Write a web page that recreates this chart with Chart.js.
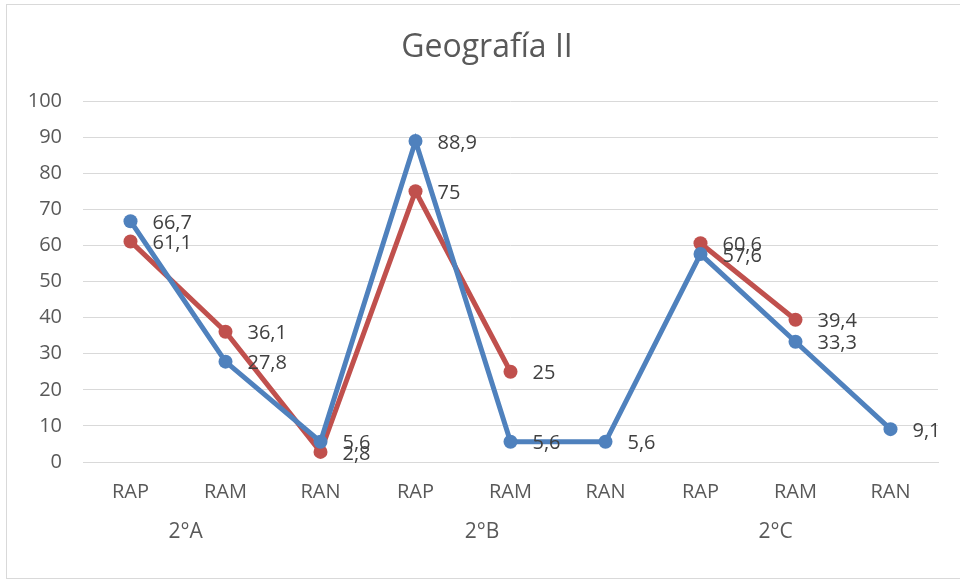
<!DOCTYPE html>
<html lang="es">
<head>
    <meta charset="UTF-8">
    <title>Geografía II</title>
    <script src="https://cdn.jsdelivr.net/npm/chart.js@4.4.1/dist/chart.umd.min.js"></script>
    <style>
        body {
            margin: 0;
            background: #fff;
        }
        #chart {
            display: block;
        }
    </style>
</head>
<body>
    <canvas id="chart" width="960" height="580"></canvas>

    <script>
        // datos
        const categories = ['RAP', 'RAM', 'RAN', 'RAP', 'RAM', 'RAN', 'RAP', 'RAM', 'RAN'];
        const groups = ['2°A', '2°B', '2°C'];
        const serieAzul = [66.7, 27.8, 5.6, 88.9, 5.6, 5.6, 57.6, 33.3, 9.1];
        const serieRoja = [61.1, 36.1, 2.8, 75, 25, null, 60.6, 39.4, null];
        const yTicks = [0, 10, 20, 30, 40, 50, 60, 70, 80, 90, 100];

        const FONT = '"Open Sans", "DejaVu Sans", sans-serif';
        const AZUL = '#4F81BD';
        const ROJO = '#C0504D';

        const fmt = v => String(v).replace('.', ',');

        // marco, título, grupos y etiquetas de datos
        const extras = {
            id: 'extras',
            beforeDraw(chart) {
                const ctx = chart.ctx;
                ctx.save();
                ctx.strokeStyle = '#D9D9D9';
                ctx.lineWidth = 1;
                ctx.strokeRect(6.5, 4.5, 1000, 574);
                ctx.restore();
            },
            afterDraw(chart) {
                const ctx = chart.ctx;
                const x = chart.scales.x;
                ctx.save();
                ctx.fillStyle = '#595959';
                ctx.font = '32px ' + FONT;
                ctx.textAlign = 'center';
                ctx.textBaseline = 'middle';
                ctx.fillText('Geografía II', 487, 48);

                ctx.font = '21px ' + FONT;
                const groupPos = [0.58, 3.7, 6.79];
                groups.forEach((g, i) => {
                    ctx.fillText(g, x.getPixelForValue(groupPos[i]), 532);
                });

                ctx.font = '20px ' + FONT;
                ctx.fillStyle = '#404040';
                ctx.textAlign = 'left';
                chart.data.datasets.forEach((ds, di) => {
                    const meta = chart.getDatasetMeta(di);
                    meta.data.forEach((pt, i) => {
                        const v = ds.data[i];
                        if (v === null) return;
                        ctx.fillText(fmt(v), pt.x + 22, pt.y + 2);
                    });
                });
                ctx.restore();
            }
        };

        new Chart(document.getElementById('chart'), {
            type: 'line',
            data: {
                labels: categories,
                datasets: [
                    {
                        label: 'Serie 1',
                        data: serieAzul,
                        borderColor: AZUL,
                        backgroundColor: AZUL,
                        borderWidth: 5,
                        pointRadius: 7,
                        pointBorderWidth: 0,
                        tension: 0
                    },
                    {
                        label: 'Serie 2',
                        data: serieRoja,
                        borderColor: ROJO,
                        backgroundColor: ROJO,
                        borderWidth: 5,
                        pointRadius: 7,
                        pointBorderWidth: 0,
                        spanGaps: false,
                        tension: 0
                    }
                ]
            },
            options: {
                responsive: false,
                animation: false,
                layout: {
                    padding: { top: 101, left: 10, right: 22, bottom: 0 }
                },
                plugins: {
                    legend: { display: false },
                    title: { display: false },
                    tooltip: { enabled: false }
                },
                scales: {
                    x: {
                        offset: true,
                        grid: { display: false, drawTicks: false },
                        border: { display: true, color: '#D9D9D9', width: 1 },
                        ticks: {
                            color: '#595959',
                            font: { family: FONT, size: 20 },
                            padding: 18,
                            maxRotation: 0,
                            autoSkip: false
                        },
                        afterFit(s) { s.height = 118; }
                    },
                    y: {
                        min: 0,
                        max: 100,
                        afterBuildTicks(s) { s.ticks = yTicks.map(v => ({ value: v })); },
                        grid: { color: '#D9D9D9', lineWidth: 1, drawTicks: false },
                        border: { display: false },
                        ticks: {
                            color: '#595959',
                            font: { family: FONT, size: 20 },
                            padding: 21
                        },
                        afterFit(s) { s.width = 73; }
                    }
                }
            },
            plugins: [extras]
        });
    </script>
</body>
</html>
